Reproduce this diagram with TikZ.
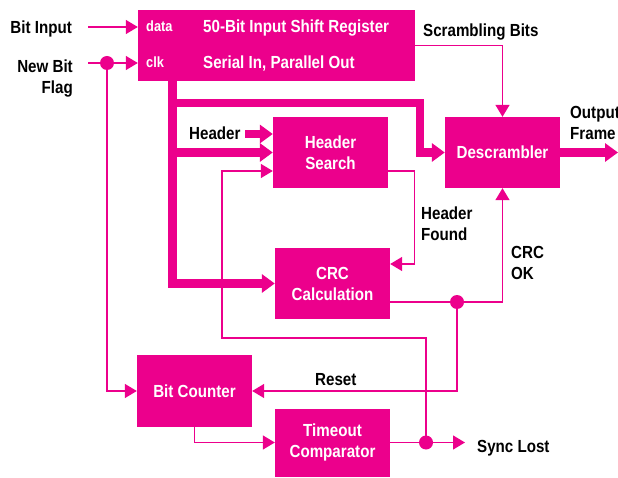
\documentclass[tikz,border=0pt]{standalone}
\usepackage{fontspec}
\setmainfont{Liberation Sans}[FakeStretch=0.865]
\usetikzlibrary{arrows.meta}
\definecolor{mag}{RGB}{236,0,140}

\begin{document}
\begin{tikzpicture}[x=1pt,y=-1pt,
  lab/.style={font=\bfseries\fontsize{17.5}{21}\selectfont, inner sep=0pt},
  wlab/.style={lab, text=white},
  small/.style={font=\bfseries\fontsize{14.8}{17}\selectfont, inner sep=0pt, text=white},
  box/.style={lab, fill=mag, text=white, minimum width=115pt, minimum height=71pt, align=center},
  sig/.style={draw=mag, line width=1.4pt},
  sigarr/.style={sig, -{Triangle[length=12pt,width=14pt]}},
  bus/.style={draw=mag, line width=8.5pt, line join=miter},
  busarr/.style={bus, -{Triangle[length=13pt,width=18pt]}},
  dot/.style={circle, fill=mag, minimum size=14pt, inner sep=0pt}]

\useasboundingbox (0,0) rectangle (618,478);

% functional blocks
\node[box, minimum width=277pt] (sr) at (276.5,45.5) {};
\node[box] (hs) at (330.5,152.5) {Header\\Search};
\node[box] (desc) at (502.5,152.5) {Descrambler};
\node[box] (crc) at (332.5,283.5) {CRC\\Calculation};
\node[box, minimum height=72pt] (bc) at (194.5,391) {Bit Counter};
\node[box, minimum height=68pt] (tc) at (332.5,442.5) {Timeout\\Comparator};

% shift register inscriptions
\node[small, anchor=base west] (data) at (146,31.3) {data};
\node[small, anchor=base west] (clk) at (146,67.3) {clk};
\node[wlab, anchor=base west] (srt1) at (203,33) {50-Bit Input Shift Register};
\node[wlab, anchor=base west] (srt2) at (203,68.5) {Serial In, Parallel Out};

% external labels
\node[lab, anchor=base east] (lbin) at (72,33.3) {Bit Input};
\node[lab, anchor=east, align=right] (lnbf) at (73,78.8) {New Bit\\Flag};
\node[lab, anchor=base west] (lscr) at (423,37) {Scrambling Bits};
\node[lab, anchor=west, align=left] (lout) at (570,122.8) {Output\\Frame};
\node[lab, anchor=base west] (lhdr) at (189,140) {Header};
\node[lab, anchor=west, align=left] (lhf) at (421,224) {Header\\Found};
\node[lab, anchor=west, align=left] (lcrc) at (511,263) {CRC\\OK};
\node[lab, anchor=base west] (lrst) at (315,385) {Reset};
\node[lab, anchor=base west] (lsync) at (477,452) {Sync Lost};

% junction dots
\node[dot] (d0) at (107,63) {};
\node[dot] (d1) at (457,302) {};
\node[dot] (d2) at (426,442.5) {};

% free ends and bends
\coordinate (bitin) at (88,27);
\coordinate (nbf) at (88,63);
\coordinate (fb) at (222,338);
\coordinate (sync) at (465,442.5);
\coordinate (bx) at (172.5,0);
\coordinate (tb) at (172.5,103);
\coordinate (jx) at (420,0);
\coordinate (hd) at (245,134);
\coordinate (out) at (618,152.5);

% single-bit signals
\draw[sigarr] (bitin) -- (bitin -| sr.west);
\draw[sigarr] (nbf) -- (nbf -| sr.west);
\draw[sigarr] (d0.center) |- (bc.west);
\draw[sigarr] (sr.east) -| (desc.north);
\draw[sigarr] ([yshift=-18.5pt]hs.east) -- ++(26,0) |- ([yshift=19.5pt]crc.east);
\draw[sig] ([yshift=-18.5pt]crc.east) -- (d1.center);
\draw[sigarr] (d1.center) -| (desc.south);
\draw[sigarr] (d1.center) |- (bc.east);
\draw[sigarr] (bc.south) |- (tc.west);
\draw[sigarr] (tc.east) -- (sync);
\draw[sigarr] (d2.center) |- (fb) |- ([yshift=-18.5pt]hs.west);

% parallel buses
\draw[busarr] (sr.south -| bx) |- (crc.west);
\draw[busarr] (tb) -- (tb -| jx) |- (desc.west);
\draw[busarr] (bx |- hs.west) -- (hs.west);
\draw[busarr] (hd) -- ([yshift=18.5pt]hs.west);
\draw[busarr] (desc.east) -- (out);

\end{tikzpicture}
\end{document}
